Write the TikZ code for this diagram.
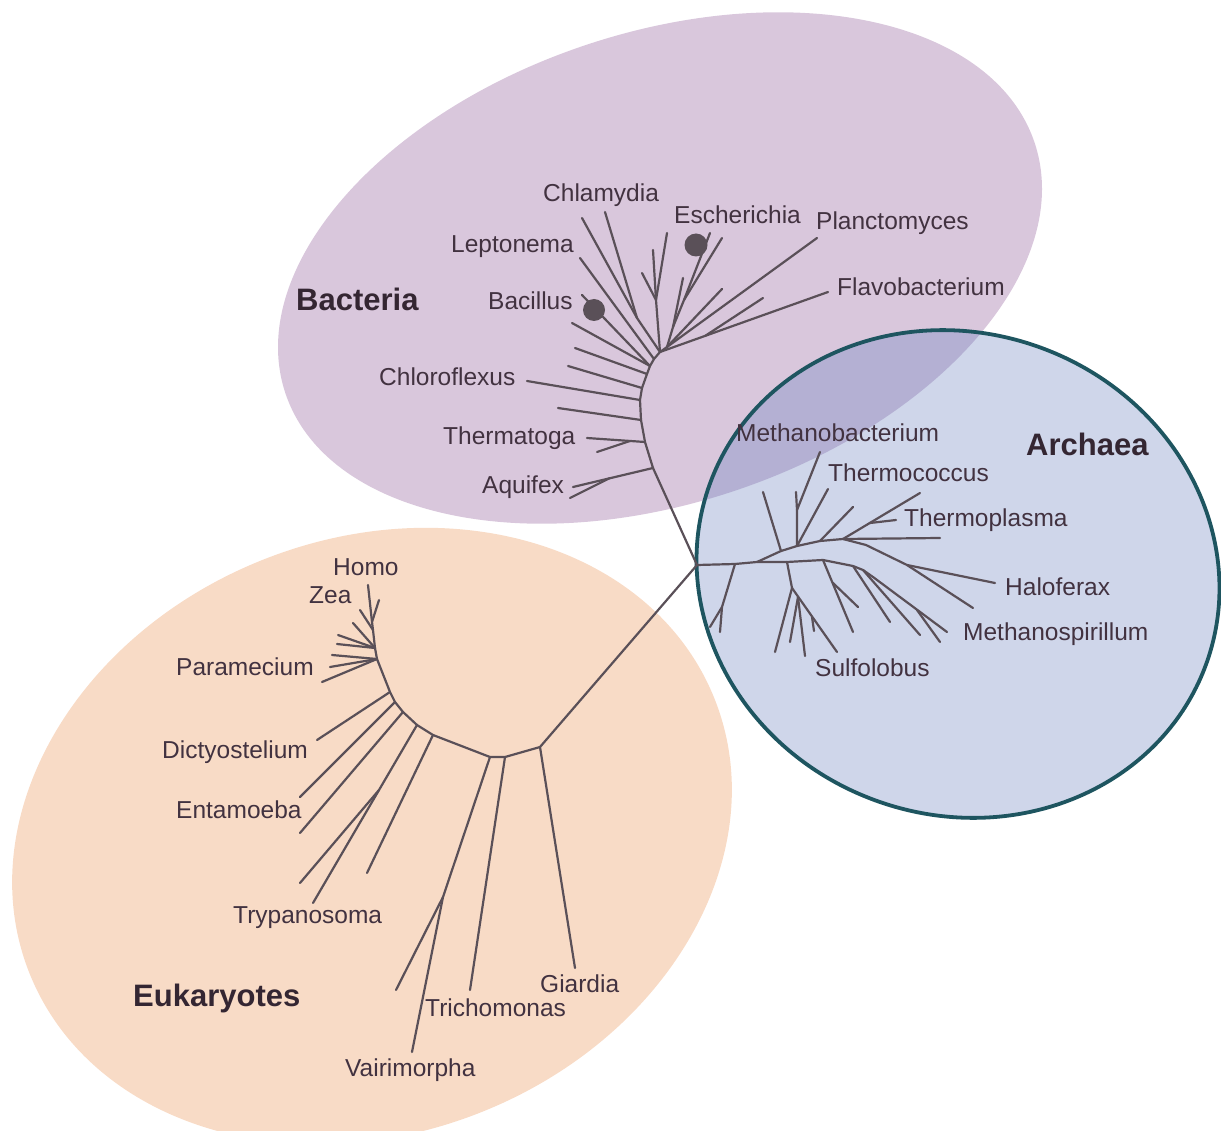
\documentclass[tikz,border=0pt]{standalone}
\usepackage{fontspec}
\setmainfont{Liberation Sans}
\definecolor{bactfill}{RGB}{217,199,220}
\definecolor{eukfill}{RGB}{248,219,198}
\definecolor{archfill}{RGB}{207,214,234}
\definecolor{overlapfill}{RGB}{180,176,211}
\definecolor{archborder}{RGB}{30,85,96}
\definecolor{treeline}{RGB}{90,80,88}
\definecolor{labeltext}{RGB}{66,50,64}
\definecolor{domaintext}{RGB}{52,38,50}
\tikzset{
  branch/.style={draw=treeline, line width=2.2pt, line cap=round, line join=round},
  taxon/.style={anchor=base west, inner sep=0pt, text=labeltext, font=\fontsize{24.5}{28}\selectfont},
  domainlabel/.style={anchor=base west, inner sep=0pt, text=domaintext, font=\fontsize{31}{36}\selectfont\bfseries},
  tipdot/.style={fill=treeline, draw=none},
  bactshape/.style={shift={(660,268)}, rotate=18.5},
  eukshape/.style={shift={(372,836)}, rotate=22},
  archshape/.style={shift={(958,574)}, rotate=-20}
}
\begin{document}
\begin{tikzpicture}[x=1pt,y=-1pt]
\useasboundingbox (0,0) rectangle (1221,1131);
\begin{scope}
\clip (0,0) rectangle (1221,1131);
% domain areas
\fill[eukfill, eukshape] (0,0) ellipse [x radius=369pt, y radius=297pt];
\fill[bactfill, bactshape] (0,0) ellipse [x radius=395pt, y radius=235pt];
\fill[archfill, archshape] (0,0) ellipse [x radius=264pt, y radius=241pt];
\begin{scope}
\clip[bactshape] (0,0) ellipse [x radius=395pt, y radius=235pt];
\fill[overlapfill, archshape] (0,0) ellipse [x radius=264pt, y radius=241pt];
\end{scope}
\draw[archborder, line width=3.8pt, archshape] (0,0) ellipse [x radius=264pt, y radius=241pt];
\end{scope}

% ---------- coordinates ----------
\coordinate (J) at (697,565);
% bacteria
\coordinate (b1) at (653,468);
\coordinate (b2) at (645,442);
\coordinate (b3) at (641,420);
\coordinate (b4) at (640,400);
\coordinate (b5) at (642,388);
\coordinate (b6) at (647,374);
\coordinate (b7) at (650,366);
\coordinate (b8) at (654,359);
\coordinate (b9) at (660,352);
\coordinate (b10) at (667,347);
\coordinate (tAq1) at (573,487);
\coordinate (fAq) at (610,478);
\coordinate (tAq2) at (570,498);
\coordinate (tTh1) at (587,438);
\coordinate (fTh) at (630,441);
\coordinate (tTh2) at (597,452);
\coordinate (tb3) at (558,408);
\coordinate (tChl) at (527,381);
\coordinate (tb5) at (568,366);
\coordinate (tb6) at (575,348);
\coordinate (tb7) at (572,323);
\coordinate (tBac) at (582,295);
\coordinate (dBac) at (594,310);
\coordinate (tLep) at (580,258);
\coordinate (cC) at (637,318);
\coordinate (tCh1) at (582,218);
\coordinate (tCh2) at (605,212);
\coordinate (M1) at (656,300);
\coordinate (tM1) at (642,273);
\coordinate (tM2) at (653,250);
\coordinate (tM3) at (667,233);
\coordinate (E1) at (673,327);
\coordinate (E2) at (684,300);
\coordinate (tE1) at (710,233);
\coordinate (tE2) at (722,238);
\coordinate (tE3) at (683,278);
\coordinate (dEsc) at (696,245);
\coordinate (tX) at (722,289);
\coordinate (tPl) at (817,238);
\coordinate (tFl) at (828,292);
\coordinate (fFl) at (705,336);
\coordinate (tFl2) at (763,298);
% archaea
\coordinate (a1) at (735,564);
\coordinate (a2) at (757,562);
\coordinate (a3) at (787,562);
\coordinate (a4) at (823,560);
\coordinate (a5) at (853,566);
\coordinate (a6) at (863,570);
\coordinate (a7) at (873,577);
\coordinate (tA7) at (947,632);
\coordinate (fA7) at (917,610);
\coordinate (tA7b) at (940,642);
\coordinate (l1) at (722,607);
\coordinate (tl1) at (720,632);
\coordinate (tl2) at (710,627);
\coordinate (s1) at (792,588);
\coordinate (ts1) at (775,652);
\coordinate (ts2) at (837,652);
\coordinate (s2) at (798,597);
\coordinate (ts3) at (805,656);
\coordinate (ts4) at (790,642);
\coordinate (s3) at (812,617);
\coordinate (ts5) at (814,631);
\coordinate (f4) at (833,583);
\coordinate (ta4) at (853,632);
\coordinate (ta4b) at (858,607);
\coordinate (ta5) at (890,622);
\coordinate (ta6) at (920,635);
\coordinate (u0) at (781,551);
\coordinate (u1) at (797,546);
\coordinate (u2) at (820,541);
\coordinate (u3) at (843,539);
\coordinate (u4) at (866,545);
\coordinate (u5) at (907,565);
\coordinate (tu5) at (973,608);
\coordinate (tHal) at (995,583);
\coordinate (tu0) at (763,492);
\coordinate (m1) at (797,510);
\coordinate (tMb) at (820,452);
\coordinate (tm1) at (796,492);
\coordinate (tTc) at (828,489);
\coordinate (tu2) at (853,507);
\coordinate (tTp) at (920,493);
\coordinate (fTp) at (870,523);
\coordinate (tTp2) at (896,520);
\coordinate (tu3) at (940,538);
% eukaryotes
\coordinate (e0) at (540,747);
\coordinate (e1) at (505,757);
\coordinate (e2) at (490,757);
\coordinate (e3) at (433,735);
\coordinate (e4) at (417,725);
\coordinate (e5) at (403,712);
\coordinate (e6) at (395,702);
\coordinate (e7) at (390,692);
\coordinate (e8) at (377,659);
\coordinate (e9) at (375,648);
\coordinate (e10) at (373,630);
\coordinate (e11) at (372,622);
\coordinate (tHomo) at (368,585);
\coordinate (tGi) at (575,968);
\coordinate (tTr) at (470,990);
\coordinate (v1) at (443,897);
\coordinate (tVa) at (412,1052);
\coordinate (tV2) at (396,990);
\coordinate (te3) at (367,873);
\coordinate (tTy) at (313,903);
\coordinate (fTy) at (379,790);
\coordinate (tTy2) at (300,883);
\coordinate (te5) at (300,833);
\coordinate (te6) at (300,797);
\coordinate (te7) at (317,740);
\coordinate (tP1) at (322,682);
\coordinate (tP2) at (330,667);
\coordinate (tP3) at (332,655);
\coordinate (tP4) at (337,644);
\coordinate (tP5) at (338,635);
\coordinate (tP6) at (353,623);
\coordinate (tZea) at (360,610);
\coordinate (tH2) at (379,600);

% ---------- bacteria tree ----------
\draw[branch] (J) -- (b1) -- (b2) -- (b3) -- (b4) -- (b5) -- (b6) -- (b7) -- (b8) -- (b9) -- (b10);
\draw[branch] (b1) -- (tAq1);
\draw[branch] (fAq) -- (tAq2);
\draw[branch] (b2) -- (tTh1);
\draw[branch] (fTh) -- (tTh2);
\draw[branch] (b3) -- (tb3);
\draw[branch] (b4) -- (tChl);
\draw[branch] (b5) -- (tb5);
\draw[branch] (b6) -- (tb6);
\draw[branch] (b7) -- (tb7);
\draw[branch] (b7) -- (tBac);
\draw[branch] (b8) -- (tLep);
\draw[branch] (b9) -- (cC);
\draw[branch] (cC) -- (tCh1);
\draw[branch] (cC) -- (tCh2);
\draw[branch] (b9) -- (M1);
\draw[branch] (M1) -- (tM1);
\draw[branch] (M1) -- (tM2);
\draw[branch] (M1) -- (tM3);
\draw[branch] (b10) -- (E1) -- (E2);
\draw[branch] (E2) -- (tE1);
\draw[branch] (E2) -- (tE2);
\draw[branch] (E1) -- (tE3);
\draw[branch] (b10) -- (tX);
\draw[branch] (b10) -- (tPl);
\draw[branch] (b9) -- (tFl);
\draw[branch] (fFl) -- (tFl2);
\fill[tipdot] (dBac) circle [radius=11pt];
\fill[tipdot] (dEsc) circle [radius=11.5pt];

% ---------- archaea tree ----------
\draw[branch] (J) -- (a1) -- (a2) -- (a3) -- (a4) -- (a5) -- (a6) -- (a7) -- (tA7);
\draw[branch] (fA7) -- (tA7b);
\draw[branch] (a1) -- (l1) -- (tl1);
\draw[branch] (l1) -- (tl2);
\draw[branch] (a3) -- (s1) -- (ts1);
\draw[branch] (s1) -- (ts2);
\draw[branch] (s2) -- (ts3);
\draw[branch] (s2) -- (ts4);
\draw[branch] (s3) -- (ts5);
\draw[branch] (a4) -- (ta4);
\draw[branch] (f4) -- (ta4b);
\draw[branch] (a5) -- (ta5);
\draw[branch] (a6) -- (ta6);
\draw[branch] (a2) -- (u0) -- (u1) -- (u2) -- (u3) -- (u4) -- (u5) -- (tu5);
\draw[branch] (u5) -- (tHal);
\draw[branch] (u0) -- (tu0);
\draw[branch] (u1) -- (m1) -- (tMb);
\draw[branch] (m1) -- (tm1);
\draw[branch] (u1) -- (tTc);
\draw[branch] (u2) -- (tu2);
\draw[branch] (u3) -- (tTp);
\draw[branch] (fTp) -- (tTp2);
\draw[branch] (u3) -- (tu3);

% ---------- eukaryote tree ----------
\draw[branch] (J) -- (e0) -- (e1) -- (e2) -- (e3) -- (e4) -- (e5) -- (e6) -- (e7) -- (e8) -- (e9) -- (e10) -- (e11) -- (tHomo);
\draw[branch] (e0) -- (tGi);
\draw[branch] (e1) -- (tTr);
\draw[branch] (e2) -- (v1) -- (tVa);
\draw[branch] (v1) -- (tV2);
\draw[branch] (e3) -- (te3);
\draw[branch] (e4) -- (tTy);
\draw[branch] (fTy) -- (tTy2);
\draw[branch] (e5) -- (te5);
\draw[branch] (e6) -- (te6);
\draw[branch] (e7) -- (te7);
\draw[branch] (e8) -- (tP1);
\draw[branch] (e8) -- (tP2);
\draw[branch] (e8) -- (tP3);
\draw[branch] (e9) -- (tP4);
\draw[branch] (e9) -- (tP5);
\draw[branch] (e9) -- (tP6);
\draw[branch] (e10) -- (tZea);
\draw[branch] (e11) -- (tH2);

% ---------- labels ----------
\node[domainlabel] (Lbact) at (296,311) {Bacteria};
\node[domainlabel] (Larch) at (1026,456) {Archaea};
\node[domainlabel] (Leuk) at (133,1006) {Eukaryotes};

\node[taxon] (nChlamydia) at (543,202) {Chlamydia};
\node[taxon] (nEscherichia) at (674,224) {Escherichia};
\node[taxon] (nPlanctomyces) at (816,230) {Planctomyces};
\node[taxon] (nLeptonema) at (451,253) {Leptonema};
\node[taxon] (nFlavobacterium) at (837,296) {Flavobacterium};
\node[taxon] (nBacillus) at (488,310) {Bacillus};
\node[taxon] (nChloroflexus) at (379,386) {Chloroflexus};
\node[taxon] (nThermatoga) at (443,444) {Thermatoga};
\node[taxon] (nAquifex) at (482,493) {Aquifex};

\node[taxon] (nMethanobacterium) at (736,441.5) {Methanobacterium};
\node[taxon] (nThermococcus) at (828,481.5) {Thermococcus};
\node[taxon] (nThermoplasma) at (904,526.5) {Thermoplasma};
\node[taxon] (nHaloferax) at (1005,595.5) {Haloferax};
\node[taxon] (nMethanospirillum) at (963,640) {Methanospirillum};
\node[taxon] (nSulfolobus) at (815,676.5) {Sulfolobus};

\node[taxon] (nHomo) at (333,575) {Homo};
\node[taxon] (nZea) at (309,603) {Zea};
\node[taxon] (nParamecium) at (176,675) {Paramecium};
\node[taxon] (nDictyostelium) at (162,758) {Dictyostelium};
\node[taxon] (nEntamoeba) at (176,818) {Entamoeba};
\node[taxon] (nTrypanosoma) at (233,923) {Trypanosoma};
\node[taxon] (nGiardia) at (540,992.5) {Giardia};
\node[taxon] (nTrichomonas) at (425,1016) {Trichomonas};
\node[taxon] (nVairimorpha) at (345,1076) {Vairimorpha};
\end{tikzpicture}
\end{document}
